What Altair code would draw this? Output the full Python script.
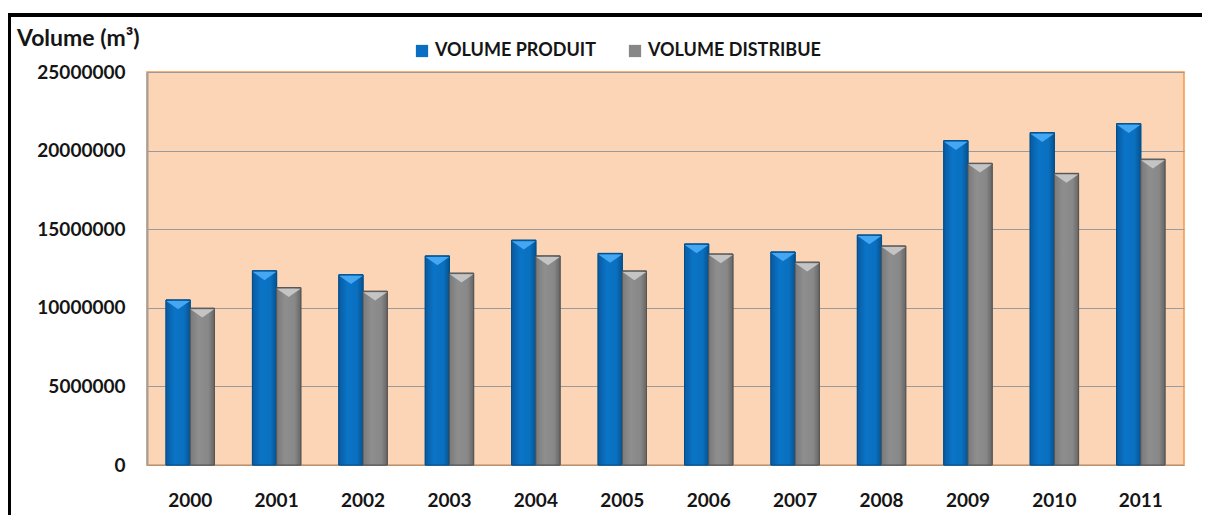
import altair as alt
import pandas as pd

years = [str(y) for y in range(2000, 2012)]
produit = [10500000, 12350000, 12100000, 13300000, 14300000, 13460000,
           14060000, 13550000, 14630000, 20630000, 21140000, 21710000]
distribue = [9970000, 11280000, 11050000, 12200000, 13300000, 12340000,
             13420000, 12900000, 13930000, 19190000, 18550000, 19450000]
series = ["VOLUME PRODUIT", "VOLUME DISTRIBUE"]
y_ticks = [0, 5000000, 10000000, 15000000, 20000000, 25000000]
title_text = "Volume (m³)"

rows = []
for i, yr in enumerate(years):
    rows.append({"annee": yr, "series": series[0], "volume": produit[i]})
    rows.append({"annee": yr, "series": series[1], "volume": distribue[i]})
df = pd.DataFrame(rows)

FONT = "Lato"
W, H = 1037, 393

x_enc = alt.X("annee:N", sort=years,
              scale=alt.Scale(paddingInner=0.44, paddingOuter=0.22),
              axis=alt.Axis(title=None, labelAngle=0, domain=False, ticks=False,
                            labelPadding=26, labelFontSize=19, labelFontWeight="bold",
                            labelFont=FONT, labelColor="#151515"))
y_enc = alt.Y("volume:Q",
              scale=alt.Scale(domain=[0, 25000000], nice=False),
              axis=alt.Axis(title=None, values=y_ticks, format="d", grid=True,
                            gridColor="#9a9a9a", gridWidth=1.2, domain=True,
                            domainColor="#a0a0a0", domainWidth=2, ticks=False,
                            labelPadding=22, labelFontSize=19, labelFontWeight="bold",
                            labelFont=FONT, labelColor="#151515"))

base = alt.Chart(df)

bars = base.mark_bar(strokeWidth=1).encode(
    x=x_enc,
    y=y_enc,
    xOffset=alt.XOffset("series:N", sort=series, scale=alt.Scale(domain=series)),
    color=alt.Color("series:N", sort=series,
                    scale=alt.Scale(domain=series, range=["#0a6fc2", "#878787"]),
                    legend=alt.Legend(title=None, orient="none", direction="horizontal",
                                      legendX=266, legendY=-30, symbolType="square",
                                      symbolSize=150, symbolStrokeWidth=0,
                                      labelFont=FONT, labelFontSize=18, labelLimit=400,
                                      labelFontWeight="bold", labelColor="#151515",
                                      columnPadding=30, labelOffset=4)),
    stroke=alt.condition("datum.series == 'VOLUME PRODUIT'",
                         alt.value("#00508e"), alt.value("#555555")),
)

blue_grad = alt.Gradient(gradient="linear", x1=0, x2=1, y1=0, y2=0, stops=[
    alt.GradientStop(color="#0a5aa0", offset=0),
    alt.GradientStop(color="#0a74c6", offset=0.35),
    alt.GradientStop(color="#0a70c0", offset=0.75),
    alt.GradientStop(color="#06528f", offset=1)])
gray_grad = alt.Gradient(gradient="linear", x1=0, x2=1, y1=0, y2=0, stops=[
    alt.GradientStop(color="#7a7a7a", offset=0),
    alt.GradientStop(color="#8e8e8e", offset=0.35),
    alt.GradientStop(color="#888888", offset=0.75),
    alt.GradientStop(color="#666666", offset=1)])

over_blue = base.transform_filter(f"datum.series == '{series[0]}'").mark_bar(
    fill=blue_grad, stroke="#00508e", strokeWidth=1
).encode(x=alt.X("annee:N", sort=years), y="volume:Q",
         xOffset=alt.XOffset("series:N", sort=series))
over_gray = base.transform_filter(f"datum.series == '{series[1]}'").mark_bar(
    fill=gray_grad, stroke="#555555", strokeWidth=1
).encode(x=alt.X("annee:N", sort=years), y="volume:Q",
         xOffset=alt.XOffset("series:N", sort=series))

bevel = base.mark_point(
    shape="M-1,0 L1,0 L0,0.7 Z", filled=True, size=560, opacity=1, yOffset=1
).encode(
    x=alt.X("annee:N", sort=years),
    y=alt.Y("volume:Q"),
    xOffset=alt.XOffset("series:N", sort=series),
    fill=alt.condition("datum.series == 'VOLUME PRODUIT'",
                       alt.value("#45a6f2"), alt.value("#c4c4c4")),
)

title = alt.Chart(pd.DataFrame({"t": [title_text]})).mark_text(
    align="left", baseline="alphabetic", font=FONT, fontSize=23,
    fontWeight="bold", color="#151515"
).encode(text="t:N", x=alt.value(-130), y=alt.value(-26))

frame_top = alt.Chart(pd.DataFrame({"t": [0]})).mark_rule(
    color="black", strokeWidth=4
).encode(x=alt.value(-140), x2=alt.value(1070), y=alt.value(-57))

frame_left = alt.Chart(pd.DataFrame({"t": [0]})).mark_rule(
    color="black", strokeWidth=4
).encode(x=alt.value(-138), y=alt.value(-59), y2=alt.value(470))

chart = alt.layer(bars, over_blue, over_gray, bevel, title, frame_top, frame_left).properties(
    width=W, height=H,
    autosize=alt.AutoSizeParams(type="none"),
    padding={"left": 139, "top": 64, "right": 18, "bottom": 50},
    background="white",
).configure_view(
    fill="#FBD5B5", stroke="#F79646", strokeWidth=1.5
)

chart.save("out.html", embed_options={"renderer": "svg", "actions": False})
